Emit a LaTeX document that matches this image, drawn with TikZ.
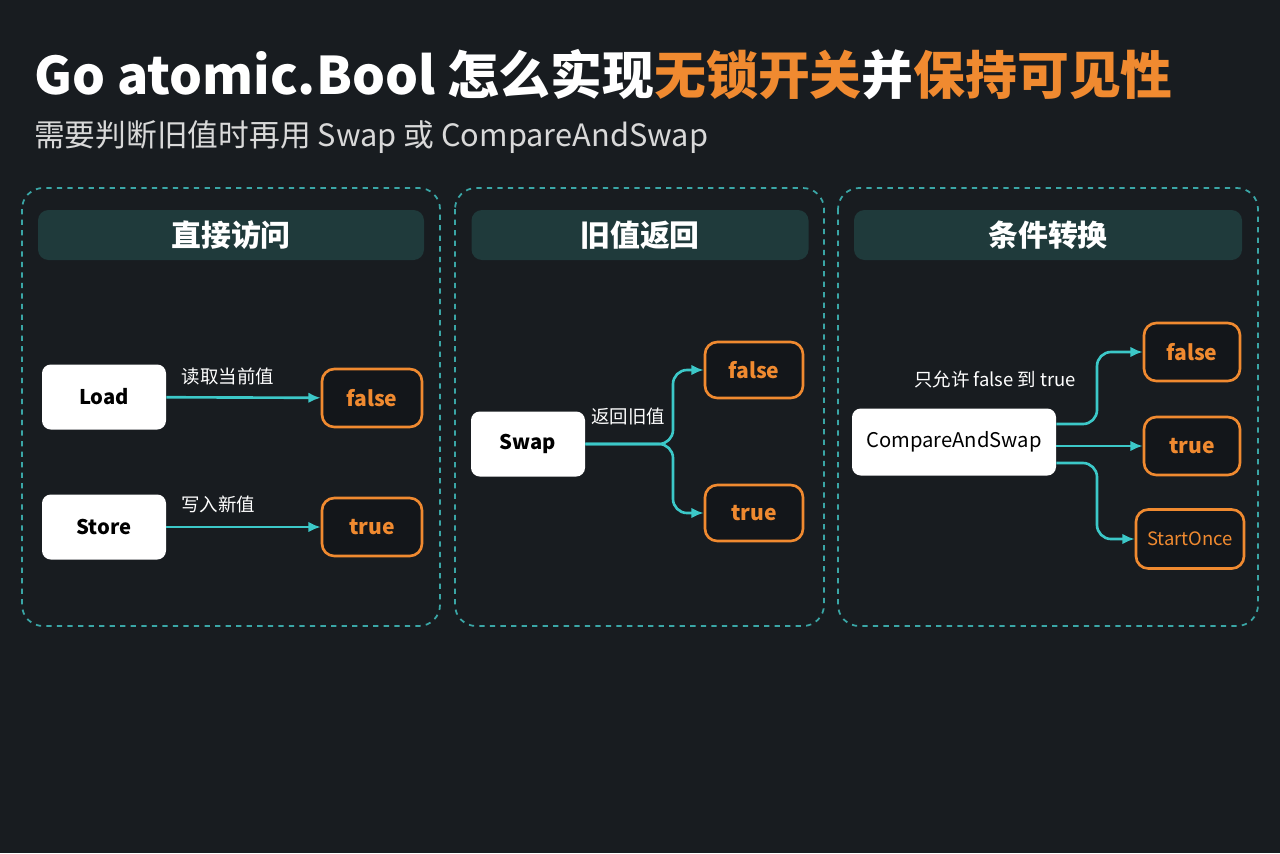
\documentclass[tikz,border=0pt]{standalone}
\usepackage{fontspec}
\setmainfont{Noto Sans CJK SC}
\usetikzlibrary{positioning,arrows.meta}
\definecolor{bgc}{HTML}{181C20}
\definecolor{tealc}{HTML}{3AA6A6}
\definecolor{headc}{HTML}{1F3A3B}
\definecolor{arrc}{HTML}{3CC8C8}
\definecolor{orc}{HTML}{F08A30}
\tikzset{
  panel/.style={draw=tealc,dashed,line width=1pt,rounded corners=12pt},
  head/.style={fill=headc,rounded corners=6pt,text=white,font=\fontsize{17}{20}\selectfont\bfseries},
  op/.style={fill=white,rounded corners=5pt,text=black,font=\fontsize{11.5}{13}\selectfont},
  val/.style={draw=orc,line width=1.5pt,fill=bgc!80!black,rounded corners=7pt,text=orc,font=\fontsize{12}{14}\selectfont\bfseries},
  link/.style={draw=arrc,line width=1.5pt,-{Latex[length=7pt,width=6pt]},rounded corners=8pt},
  lbl/.style={text=white,font=\fontsize{10.5}{12}\selectfont}
}
\begin{document}
\begin{tikzpicture}[x=0.02cm,y=-0.02cm]
\fill[bgc] (0,0) rectangle (1280,853);
\node[anchor=west,text=white,font=\fontsize{29.5}{34}\selectfont\bfseries] (title) at (28,75)
  {Go atomic.Bool 怎么实现\textcolor{orc}{无锁开关}并\textcolor{orc}{保持可见性}};
\node[anchor=west,text=white!85!black,font=\fontsize{17.5}{20}\selectfont] (sub) at (28,137)
  {需要判断旧值时再用 Swap 或 CompareAndSwap};
% panels
\draw[panel] (22,188) rectangle (440,626);
\draw[panel] (455,188) rectangle (824,626);
\draw[panel] (838,188) rectangle (1258,626);
\node[head,minimum width=386*0.02cm,minimum height=50*0.02cm] (h1) at (231,235) {直接访问};
\node[head,minimum width=337*0.02cm,minimum height=50*0.02cm] (h2) at (640,235) {旧值返回};
\node[head,minimum width=388*0.02cm,minimum height=50*0.02cm] (h3) at (1048,235) {条件转换};
% direct access
\node[op,minimum width=124*0.02cm,minimum height=65*0.02cm] (load) at (104,397) {\textbf{Load}};
\node[op,minimum width=124*0.02cm,minimum height=65*0.02cm] (store) at (104,527) {\textbf{Store}};
\node[val,minimum width=100*0.02cm,minimum height=58*0.02cm] (f1) at (372,398) {false};
\node[val,minimum width=100*0.02cm,minimum height=58*0.02cm] (t1) at (372,527) {true};
\draw[link] (load) -- (f1);
\draw[link] (store) -- (t1);
\node[lbl] (l1) at (228,376) {读取当前值};
\node[lbl] (l2) at (218,504) {写入新值};
% swap
\node[op,minimum width=114*0.02cm,minimum height=65*0.02cm] (swap) at (528,444) {\textbf{Swap}};
\node[val,minimum width=98*0.02cm,minimum height=56*0.02cm] (f2) at (754,370) {false};
\node[val,minimum width=98*0.02cm,minimum height=56*0.02cm] (t2) at (754,513) {true};
\coordinate (s2) at (673,444);
\draw[link] (swap.east) -- (s2) |- (f2.west);
\draw[link] (swap.east) -- (s2) |- (t2.west);
\node[lbl] (l3) at (628,416) {返回旧值};
% cas
\node[op,minimum width=204*0.02cm,minimum height=67*0.02cm] (cas) at (954,442) {CompareAndSwap};
\node[val,minimum width=96*0.02cm,minimum height=58*0.02cm] (f3) at (1192,352) {false};
\node[val,minimum width=96*0.02cm,minimum height=58*0.02cm] (t3) at (1192,446) {true};
\node[val,minimum width=108*0.02cm,minimum height=59*0.02cm,inner sep=1pt,font=\fontsize{10.5}{12}\selectfont] (so) at (1190,539) {StartOnce};
\coordinate (c1) at (1097,424);
\coordinate (c2) at (1097,463);
\draw[link] (cas.east |- c1) -- (c1) |- (f3.west);
\draw[link] (cas.east |- t3) -- (t3.west);
\draw[link] (cas.east |- c2) -- (c2) |- (so.west);
\node[lbl] (l4) at (995,379) {只允许 false 到 true};
\end{tikzpicture}
\end{document}
